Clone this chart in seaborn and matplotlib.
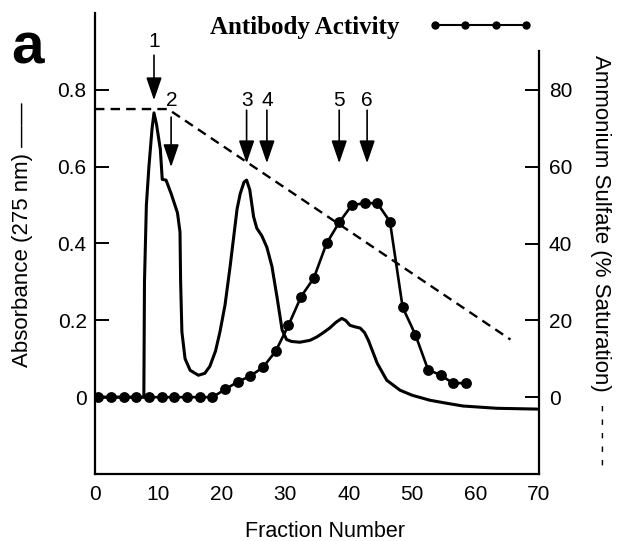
import numpy as np
import pandas as pd
import matplotlib
matplotlib.use("Agg")
import matplotlib.pyplot as plt
import seaborn as sns
from matplotlib.lines import Line2D

# ---- data -------------------------------------------------------------
# Absorbance at 275 nm along the elution profile
abs_fraction = [0, 7.7, 7.8, 8.1, 8.5, 9.0, 9.3, 9.7, 10.3, 10.6, 11.2, 12.0,
                13.0, 13.4, 13.5, 13.7, 14.2, 15.0, 16.3, 17.3, 18.1, 19.0,
                19.7, 20.5, 21.3, 22.4, 22.9, 23.5, 23.9, 24.4, 25.0, 25.5,
                26.3, 27.1, 27.9, 28.7, 29.5, 30.2, 31.0, 32.3, 33.9, 35.0,
                36.0, 37.0, 38.0, 38.9, 39.5, 40.2, 41.0, 41.8, 42.5, 43.1,
                44.5, 46.0, 48.1, 50.0, 52.8, 55.5, 58.0, 63.4, 69.7]
absorbance = [0, 0, 0.30, 0.50, 0.60, 0.70, 0.74, 0.71, 0.645, 0.567, 0.565,
              0.53, 0.48, 0.43, 0.30, 0.17, 0.10, 0.07, 0.057, 0.062, 0.08,
              0.12, 0.17, 0.24, 0.34, 0.49, 0.53, 0.56, 0.565, 0.54, 0.47,
              0.44, 0.42, 0.39, 0.34, 0.26, 0.175, 0.15, 0.145, 0.143, 0.148,
              0.157, 0.168, 0.18, 0.195, 0.205, 0.20, 0.187, 0.183, 0.18,
              0.168, 0.148, 0.088, 0.044, 0.018, 0.005, -0.008, -0.016,
              -0.023, -0.029, -0.031]

# Antibody activity, measured on every second fraction
activity_fraction = [0.5, 2.5, 4.5, 6.5, 8.5, 10.5, 12.5, 14.5, 16.5, 18.5,
                     20.5, 22.5, 24.5, 26.5, 28.5, 30.5, 32.5, 34.5, 36.5,
                     38.5, 40.5, 42.5, 44.5, 46.5, 48.5, 50.5, 52.5, 54.5,
                     56.5, 58.5]
activity = [0, 0, 0, 0, 0, 0, 0, 0, 0, 0,
            0.02, 0.04, 0.055, 0.078, 0.12, 0.187, 0.262, 0.31, 0.40,
            0.455, 0.50, 0.505, 0.505, 0.457, 0.234, 0.163, 0.072, 0.057,
            0.036, 0.037]

# Ammonium sulfate gradient (% saturation)
salt_fraction = [0, 11.5, 65.5]
salt_saturation = [75, 75, 15]

# Pooled fractions marked by arrows
pool_labels = ["1", "2", "3", "4", "5", "6"]
pool_fraction = [9.3, 12.0, 23.9, 27.1, 38.5, 42.9]

x_ticks = [0, 10, 20, 30, 40, 50, 60, 70]
left_ticks = [0, 0.2, 0.4, 0.6, 0.8]
left_tick_labels = ["0", "0.2", "0.4", "0.6", "0.8"]
right_ticks = [0, 20, 40, 60, 80]

# ---- style ------------------------------------------------------------
sns.set_theme(style="white")
plt.rcParams["font.family"] = ["Liberation Sans", "DejaVu Sans"]
plt.rcParams["text.color"] = "black"

fig = plt.figure(figsize=(6.17, 5.41), dpi=100)
ax = fig.add_axes([95 / 617, 1 - 474 / 541, 444 / 617, 461 / 541])
ax.set_facecolor("none")
fig.patch.set_facecolor("white")

abs_df = pd.DataFrame({"fraction": abs_fraction, "absorbance": absorbance})
act_df = pd.DataFrame({"fraction": activity_fraction, "activity": activity})
salt_df = pd.DataFrame({"fraction": salt_fraction, "saturation": salt_saturation})

sns.lineplot(data=abs_df, x="fraction", y="absorbance", sort=False,
             estimator=None, color="black", lw=2.2, ax=ax)
sns.lineplot(data=act_df, x="fraction", y="activity", sort=False,
             estimator=None, color="black", lw=1.9, marker="o",
             markersize=7.8, markeredgewidth=0, ax=ax)

ax.set_xlim(0, 70)
ax.set_ylim(-0.2, 1.0)
ax.set_xticks(x_ticks)
ax.set_yticks(left_ticks)
ax.set_yticklabels(left_tick_labels)
ax.set_xlabel("")
ax.set_ylabel("")
for side in ("top", "right"):
    ax.spines[side].set_visible(False)
for side in ("left", "bottom"):
    ax.spines[side].set_linewidth(1.6)
    ax.spines[side].set_color("black")
ax.tick_params(axis="both", direction="in", length=10, width=1.4,
               colors="black", labelsize=15, pad=6)
ax.tick_params(axis="x", pad=8)

# right axis for the salt gradient
ax2 = ax.twinx()
sns.lineplot(data=salt_df, x="fraction", y="saturation", sort=False,
             estimator=None, color="black", lw=1.7, ax=ax2,
             dashes=False)
ax2.lines[-1].set_dashes((4, 2.6))
ax2.set_ylim(-20, 100)
ax2.set_yticks(right_ticks)
ax2.set_ylabel("")
for side in ("top", "left", "bottom"):
    ax2.spines[side].set_visible(False)
ax2.spines["right"].set_bounds(-20, 90)
ax2.spines["right"].set_linewidth(1.6)
ax2.spines["right"].set_color("black")
ax2.tick_params(axis="y", direction="in", length=10, width=1.4,
                colors="black", labelsize=15, pad=7)
ax2.grid(False)
ax.grid(False)

# arrows marking the pooled fractions
label_y = [0.927, 0.773, 0.773, 0.773, 0.773, 0.773]
stem_top = [0.89, 0.729, 0.747, 0.747, 0.747, 0.747]
stem_tip = [0.773, 0.599, 0.609, 0.609, 0.609, 0.609]
for lab, fx, ly, y0, y1 in zip(pool_labels, pool_fraction, label_y,
                               stem_top, stem_tip):
    ax.annotate("", xy=(fx, y1), xytext=(fx, y0),
                arrowprops=dict(arrowstyle="-|>,head_length=0.7,head_width=0.24",
                                color="black", lw=1.2, shrinkA=0, shrinkB=0,
                                mutation_scale=20))
    ax.text(fx + (0.15 if lab == "2" else 0), ly, lab, ha="center",
            va="center", fontsize=15)

# legend for the activity trace
handle = Line2D([], [], color="black", lw=1.5, marker="o", markersize=6,
                markeredgewidth=0)
fig.legend([handle], ["Antibody Activity"], loc="center",
           bbox_to_anchor=(0.603, 0.95), frameon=False, numpoints=4,
           markerfirst=False, handlelength=4.25, handletextpad=1.1,
           prop={"family": "Liberation Serif", "weight": "bold", "size": 18})

# axis titles and panel letter
fig.text(23 / 617, 1 - 235 / 541, "Absorbance (275 nm) \u2014\u2014",
         rotation=90, ha="center", va="center", fontsize=16)
fig.text(601 / 617, 1 - 260 / 541,
         "Ammonium Sulfate (% Saturation)  - - - - -",
         rotation=270, ha="center", va="center", fontsize=16)
fig.text(325 / 617, 1 - 537 / 541, "Fraction Number", ha="center",
         va="baseline", fontsize=15.5)
fig.text(11 / 617, 1 - 63 / 541, "a", ha="left", va="baseline",
         fontsize=42, fontweight="bold")

fig.savefig("out.png", dpi=100)
